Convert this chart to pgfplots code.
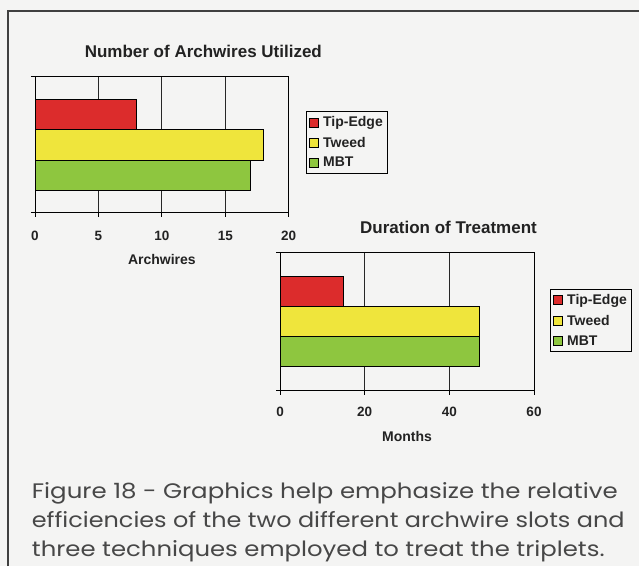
\documentclass[border=0pt]{standalone}
\usepackage{pgfplots}
\pgfplotsset{compat=1.18}
\usepackage{fontspec}
\setmainfont{Liberation Sans}
\newfontfamily\capfont{Poppins}
\definecolor{bg}{HTML}{F4F4F3}
\definecolor{cred}{HTML}{DC2C2C}
\definecolor{cyel}{HTML}{EFE53C}
\definecolor{cgrn}{HTML}{8EC63F}
\definecolor{ink}{HTML}{222222}
\pgfplotsset{
  sq/.style={legend image code/.code={\draw[##1, draw=black, line width=0.6pt] (0pt,-4.5pt) rectangle (9pt,4.5pt); \path[draw=none, fill=none] (0pt,0pt) -- (12pt,0pt);}},
  mybars/.style={
    xbar, scale only axis,
    xmin=0, ymin=-1, ymax=1,
    ytick={-1,1}, yticklabels={},
    xtick pos=lower, ytick pos=left,
    tick align=outside, major tick length=4pt,
    xmajorgrids, grid style={black!85, line width=0.8pt},
    axis line style={black, line width=0.8pt},
    tick style={black, line width=0.8pt},
    bar width=0.446,
    /pgf/number format/assume math mode=true,
    xticklabel style={font=\bfseries\fontsize{13.5}{13.5}\selectfont, text=ink, yshift=-10.5pt},
    title style={font=\bfseries\fontsize{17}{17}\selectfont, text=ink, anchor=base, at={(axis description cs:0.5,1)}, yshift=13.5pt, xshift=41.5pt},
    xlabel style={font=\bfseries\fontsize{14}{14}\selectfont, text=ink, anchor=base, at={(axis description cs:0.5,0)}, yshift=-52pt},
    legend style={anchor=north west, draw=black, line width=0.8pt, fill=none,
      font=\bfseries\fontsize{14}{14}\selectfont, text=ink, row sep=4.5pt, inner xsep=2.5pt, inner ysep=3pt,
      cells={anchor=west}},
  },
}
\begin{document}
\begin{tikzpicture}[x=1pt,y=1pt]
\fill[bg] (0,0) rectangle (639,566);
\useasboundingbox (0,0) rectangle (639,566);
\draw[black!75, line width=1.8pt] (8,0) -- (8,554.7) -- (639,554.7);
% chart 1
\begin{axis}[mybars, at={(35pt,353.3pt)}, anchor=south west, width=253.7pt, height=136pt,
  xmax=20, xtick={0,5,10,15,20},
  title={Number of Archwires Utilized}, xlabel={Archwires},
  legend style={at={(axis description cs:1.068,0.745)}}]
\addplot[fill=cred, draw=black, line width=0.6pt, bar shift=0.446, sq] coordinates {(8,0)};
\addplot[fill=cyel, draw=black, line width=0.6pt, bar shift=0, sq] coordinates {(18,0)};
\addplot[fill=cgrn, draw=black, line width=0.6pt, bar shift=-0.446, sq] coordinates {(17,0)};
\legend{Tip-Edge,Tweed,MBT}
\end{axis}
% chart 2
\begin{axis}[mybars, at={(280pt,175.3pt)}, anchor=south west, width=254pt, height=138pt,
  xmax=60, xtick={0,20,40,60}, bar width=0.435,
  xticklabel style={yshift=1.5pt},
  title={Duration of Treatment}, xlabel={Months}, xlabel style={yshift=1pt},
  legend style={at={(axis description cs:1.063,0.737)}, row sep=5pt}]
\addplot[fill=cred, draw=black, line width=0.6pt, bar shift=0.435, sq] coordinates {(15,0)};
\addplot[fill=cyel, draw=black, line width=0.6pt, bar shift=0, sq] coordinates {(47,0)};
\addplot[fill=cgrn, draw=black, line width=0.6pt, bar shift=-0.435, sq] coordinates {(47,0)};
\legend{Tip-Edge,Tweed,MBT}
\end{axis}
% caption
\begin{scope}[every node/.style={anchor=base west, inner sep=0pt, text=black!72, font=\capfont\fontsize{21}{21}\selectfont}]
\node at (31.7,67.7) {\scalebox{1.165}[1]{Figure 18 - Graphics help emphasize the relative}};
\node at (31.7,38.3) {\scalebox{1.14}[1]{efficiencies of the two different archwire slots and}};
\node at (31.7,9.3) {\scalebox{1.16}[1]{three techniques employed to treat the triplets.}};
\end{scope}
\end{tikzpicture}
\end{document}
